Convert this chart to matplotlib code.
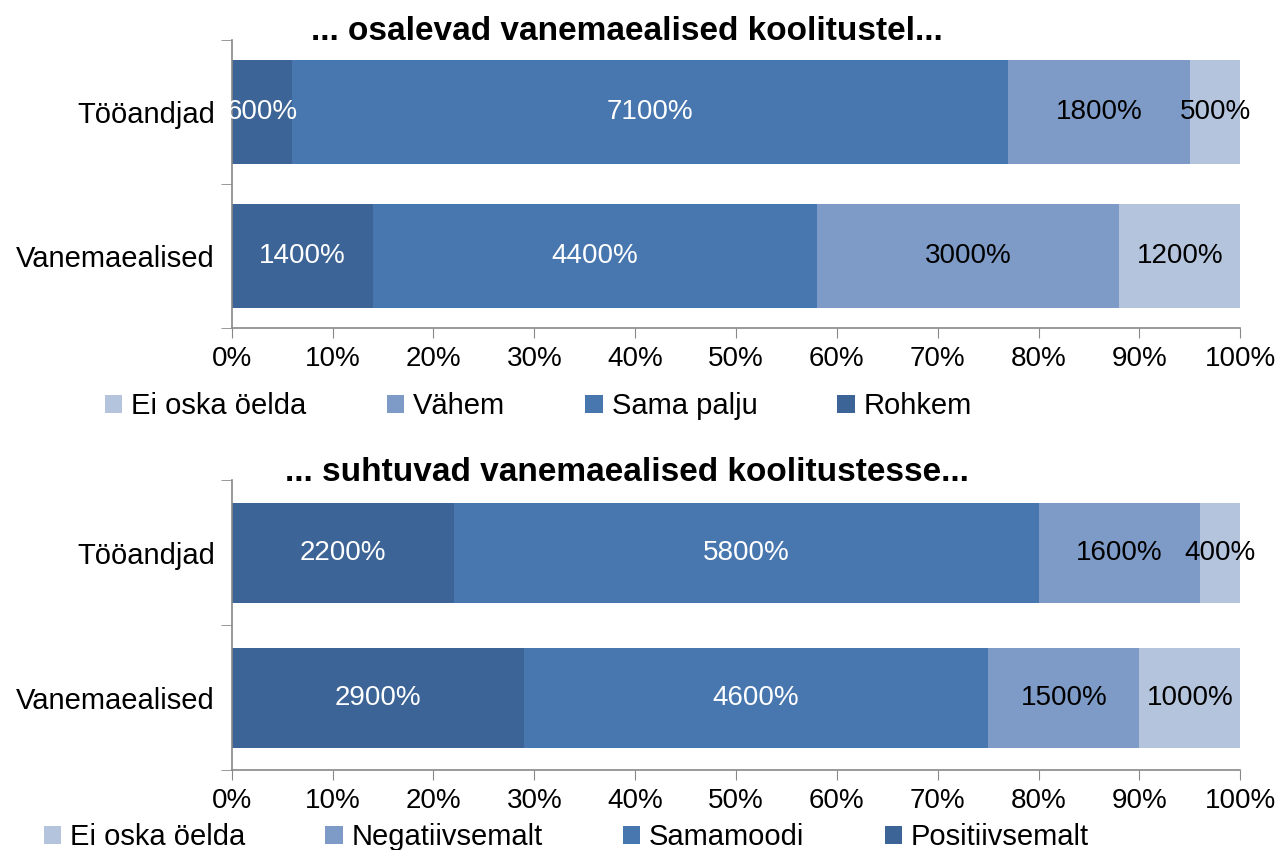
import matplotlib.pyplot as plt
import numpy as np

plt.rcParams['font.family'] = ['Liberation Sans', 'DejaVu Sans']

# andmed
kategooriad = ['Tööandjad', 'Vanemaealised']

pealkiri1 = '... osalevad vanemaealised koolitustel...'
seeriad1 = ['Rohkem', 'Sama palju', 'Vähem', 'Ei oska öelda']
rohkem = [6, 14]
sama_palju = [71, 44]
vahem = [18, 30]
ei_oska1 = [5, 12]

pealkiri2 = '... suhtuvad vanemaealised koolitustesse...'
seeriad2 = ['Positiivsemalt', 'Samamoodi', 'Negatiivsemalt', 'Ei oska öelda']
positiivsemalt = [22, 29]
samamoodi = [58, 46]
negatiivsemalt = [16, 15]
ei_oska2 = [4, 10]

xtikid = [0, 10, 20, 30, 40, 50, 60, 70, 80, 90, 100]

varvid = ['#3D6496', '#4877B0', '#7E9BC7', '#B5C4DD']
tekstivarvid = ['white', 'white', 'black', 'black']
FS = 20


def joonista(ax, andmed, nimed, korgus):
    y = np.array([1, 0])  # Tööandjad ülal
    vasak = np.zeros(len(kategooriad))
    for i, vaartused in enumerate(andmed):
        v = np.array(vaartused, dtype=float)
        bars = ax.barh(y, v, left=vasak, height=korgus, color=varvid[i],
                       label=nimed[i], edgecolor='none')
        for b, val in zip(bars, v):
            ax.text(b.get_x() + b.get_width() / 2, b.get_y() + b.get_height() / 2,
                    '%d%%' % (val * 100), ha='center', va='center',
                    color=tekstivarvid[i], fontsize=FS)
        vasak += v
    ax.set_xlim(0, 100)
    ax.set_ylim(-0.5, 1.5)
    ax.set_xticks(xtikid)
    ax.set_xticklabels(['%d%%' % t for t in xtikid], fontsize=FS)
    ax.set_yticks(y)
    ax.set_yticklabels(kategooriad, fontsize=21)
    ax.set_yticks([-0.5, 0.5, 1.5], minor=True)
    ax.tick_params(axis='y', which='major', length=0, pad=12)
    ax.tick_params(axis='y', which='minor', length=8, color='#888888')
    ax.tick_params(axis='x', length=7, color='#888888', pad=6)
    for s in ['top', 'right']:
        ax.spines[s].set_visible(False)
    for s in ['left', 'bottom']:
        ax.spines[s].set_color('#888888')
        ax.spines[s].set_linewidth(1.2)


fig = plt.figure(figsize=(12.8, 8.5), dpi=100)
ax1 = fig.add_axes([0.181, 0.614, 0.788, 0.339])
ax2 = fig.add_axes([0.181, 0.094, 0.788, 0.341])

joonista(ax1, [rohkem, sama_palju, vahem, ei_oska1], seeriad1, 0.72)
joonista(ax2, [positiivsemalt, samamoodi, negatiivsemalt, ei_oska2], seeriad2, 0.69)

fig.text(0.49, 0.963, pealkiri1, ha='center', va='center', fontsize=24, fontweight='bold')
fig.text(0.49, 0.444, pealkiri2, ha='center', va='center', fontsize=24, fontweight='bold')

for ax, x0, y0 in [(ax1, 0.082, 0.522), (ax2, 0.034, 0.015)]:
    h, l = ax.get_legend_handles_labels()
    ax.legend(h[::-1], l[::-1], loc='center left', bbox_to_anchor=(x0, y0),
              bbox_transform=fig.transFigure, ncol=4, frameon=False, fontsize=21,
              handlelength=0.6, handleheight=0.6, handletextpad=0.3,
              columnspacing=2.75, borderaxespad=0, borderpad=0)

fig.savefig('out.png', dpi=100)
